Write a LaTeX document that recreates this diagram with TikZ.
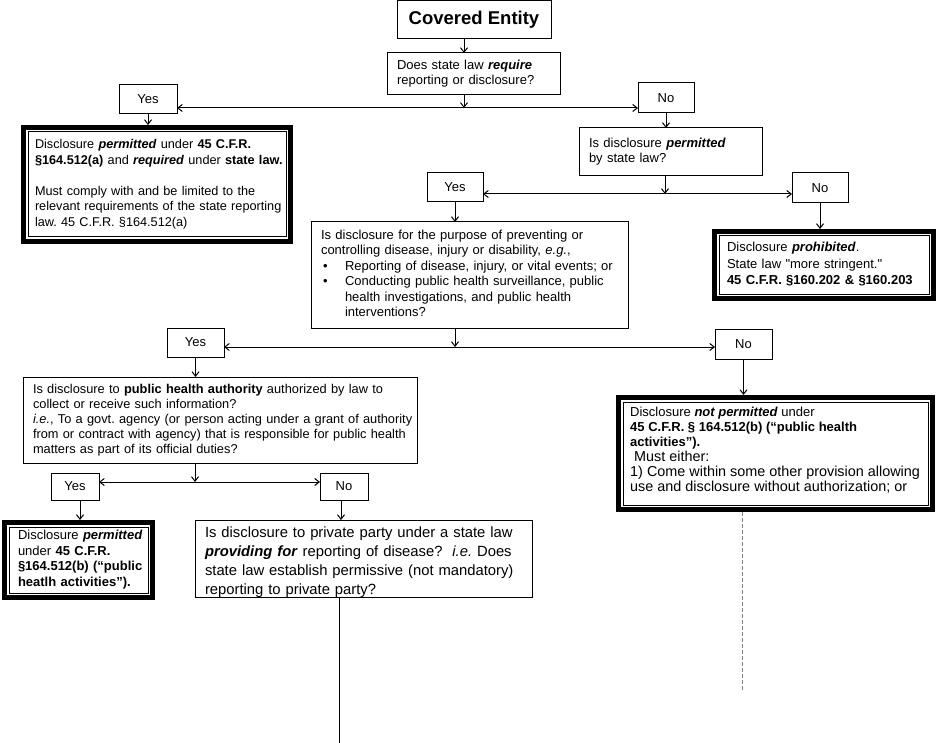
\documentclass[tikz,border=0pt]{standalone}
\usepackage{fontspec}
\setmainfont{Liberation Sans}
\newfontfamily\rawfont{Liberation Sans}
\usetikzlibrary{arrows.meta}
\newcommand\lgfont{\fontsize{14.4}{15}\selectfont}
\newcommand\blines[1]{\begin{tabular}{@{}l@{}}#1\end{tabular}}
\begin{document}
\begin{tikzpicture}[x=1pt,y=-1pt,
  every node/.append style={execute at begin node=\frenchspacing},
  txt/.style={font=\fontsize{13}{15.5}\selectfont},
  big/.style={font=\fontsize{14.8}{18.7}\selectfont},
  bx/.style={txt, draw, line width=1pt, anchor=north west, outer sep=0pt, inner xsep=10pt, inner ysep=2pt, align=left},
  lbl/.style={txt, draw, line width=1pt, anchor=north west, outer sep=0pt, inner sep=0pt, align=center},
  dbx/.style={txt, anchor=north west, outer sep=0pt, inner xsep=14pt, inner ysep=2pt, align=left},
  thickframe/.style={line width=5pt},
  thinframe/.style={line width=1pt},
  arr/.style={line width=1pt, -{Straight Barb[length=4.5pt,width=7pt]}},
  arrb/.style={line width=1pt, {Straight Barb[length=4.5pt,width=7pt]}-{Straight Barb[length=4.5pt,width=7pt]}},
  link/.style={line width=1pt},
  dashlink/.style={draw=gray, line width=1pt, dash pattern=on 4pt off 2pt}
]
\useasboundingbox (0,0) rectangle (939,743);

% ---- nodes ----
\node[lbl, minimum width=154, minimum height=38.5, font=\bfseries\fontsize{18.5}{20}\selectfont] (ce) at (397,0.5) {Covered Entity};

\node[bx, minimum width=173, minimum height=42, text width=153] (q1) at (387,53)
  {\blines{Does state law \textbf{\textit{require}}\\reporting or disclosure?}};

\node[lbl, minimum width=58, minimum height=29] (yes1) at (119,85) {Yes};
\node[lbl, minimum width=56, minimum height=30] (no1) at (638,83) {No};

\node[dbx, minimum width=272, minimum height=119, text width=244, font=\fontsize{12.7}{15.5}\selectfont] (pr) at (21,125)
  {\blines{Disclosure \textbf{\textit{permitted}} under \textbf{45 C.F.R.}\\
   \textbf{§164.512(a)} and \textbf{\textit{required}} under \textbf{state law.}\\[15.5pt]
   Must comply with and be limited to the\\
   relevant requirements of the state reporting\\
   law. 45 C.F.R. §164.512(a)}};

\node[bx, minimum width=183, minimum height=48, text width=163] (q2) at (579,128)
  {\blines{Is disclosure \textbf{\textit{permitted}}\\by state law?}};

\node[lbl, minimum width=56, minimum height=29] (yes2) at (427,173) {Yes};
\node[lbl, minimum width=56, minimum height=30] (no2) at (792,173) {No};

\node[dbx, inner xsep=15pt, minimum width=224, minimum height=72, text width=194, font=\fontsize{13}{16.5}\selectfont] (proh) at (712,229)
  {\blines{Disclosure \textbf{\textit{prohibited}}.\\
   State law {\rawfont "}more stringent.{\rawfont "}\\
   \textbf{45 C.F.R. §160.202 \& §160.203}}};

\node[bx, minimum width=317, minimum height=106, text width=297] (q3) at (311,222)
  {\blines{Is disclosure for the purpose of preventing or\\
   controlling disease, injury or disability, \textit{e.g.},\\
   \makebox[24pt][l]{\hspace{2pt}•}Reporting of disease, injury, or vital events; or\\
   \makebox[24pt][l]{\hspace{2pt}•}Conducting public health surveillance, public\\
   \hspace*{24pt}health investigations, and public health\\
   \hspace*{24pt}interventions?}};

\node[lbl, minimum width=57, minimum height=29] (yes3) at (167,328) {Yes};
\node[lbl, minimum width=57, minimum height=30] (no3) at (715,329) {No};

\node[dbx, minimum width=319, minimum height=117] (np) at (616,395) {};
\node[txt, anchor=north west, inner sep=0pt, align=left, font=\fontsize{13}{15}\selectfont] (npt) at (630,405.5)
  {\blines{Disclosure \textbf{\textit{not permitted}} under\\
   \textbf{45 C.F.R. § 164.512(b) (“public health}\\
   \textbf{activities”).}\\
   {\lgfont\ Must either:}\\
   {\lgfont 1) Come within some other provision allowing}\\
   {\lgfont use and disclosure without authorization; or}}};

\node[bx, minimum width=394, minimum height=86, text width=374, font=\fontsize{12.8}{15}\selectfont] (q4) at (23,377)
  {\blines{Is disclosure to \textbf{public health authority} authorized by law to\\
   collect or receive such information?\\
   \textit{i.e.}, To a govt. agency (or person acting under a grant of authority\\
   from or contract with agency) that is responsible for public health\\
   matters as part of its official duties?}};

\node[lbl, minimum width=48, minimum height=27] (yes4) at (51,473) {Yes};
\node[lbl, minimum width=48, minimum height=27] (no4) at (320,473) {No};

\node[dbx, inner xsep=16pt, minimum width=153, minimum height=80, text width=121, font=\fontsize{13}{15.5}\selectfont] (pb) at (2,520)
  {\blines{Disclosure \textbf{\textit{permitted}}\\
   under \textbf{45 C.F.R.}\\
   \textbf{§164.512(b) (“public}\\
   \textbf{heatlh activities”).}}};

\node[bx, big, inner ysep=0pt, minimum width=337, minimum height=77, text width=317] (q5) at (195,520)
  {\blines{\rule{0pt}{16.9pt}Is disclosure to private party under a state law\\
   \textbf{\textit{providing for}} reporting of disease?\ \ \textit{i.e.} Does\\
   state law establish permissive (not mandatory)\\
   reporting to private party?\\[-3.8pt]}};

% ---- double frames ----
\foreach \n in {pr,proh,np,pb}{
  \draw[thickframe] ([shift={(2.5,2.5)}]\n.north west) rectangle ([shift={(-2.5,-2.5)}]\n.south east);
  \draw[thinframe] ([shift={(7,7)}]\n.north west) rectangle ([shift={(-7,-7)}]\n.south east);
}

% ---- connectors ----
\coordinate (j1) at (464,108);
\draw[arr] (ce.south -| j1) -- (q1.north -| j1);
\draw[arr] (q1.south -| j1) -- (j1);
\draw[arrb] (yes1.east |- j1) -- (no1.west |- j1);
\draw[arr] (yes1) -- (yes1 |- pr.north);
\draw[arr] (no1) -- (no1 |- q2.north);

\coordinate (j2) at (665,194);
\draw[arr] (q2.south -| j2) -- (j2);
\draw[arrb] (yes2.east |- j2) -- (no2.west |- j2);
\draw[arr] (yes2) -- (yes2 |- q3.north);
\draw[arr] (no2) -- (no2 |- proh.north);

\coordinate (j3) at (455,347);
\draw[arr] (q3.south -| j3) -- (j3);
\draw[arrb] (yes3.east |- j3) -- (no3.west |- j3);
\draw[arr] (yes3) -- (yes3 |- q4.north);
\draw[arr] (no3) -- (no3 |- np.north);

\coordinate (j4) at (195,482);
\draw[arr] (q4.south -| j4) -- (j4);
\draw[arrb] (yes4.east |- j4) -- (no4.west |- j4);
\coordinate (a4) at (80,0);
\draw[arr] (yes4.south -| a4) -- (pb.north -| a4);
\coordinate (a5) at (341,0);
\draw[arr] (no4.south -| a5) -- (q5.north -| a5);

\coordinate (e5) at (339,743);
\draw[link] (q5.south -| e5) -- (e5);
\coordinate (e6) at (742,690);
\draw[dashlink] (np.south -| e6) -- (e6);
\end{tikzpicture}
\end{document}
